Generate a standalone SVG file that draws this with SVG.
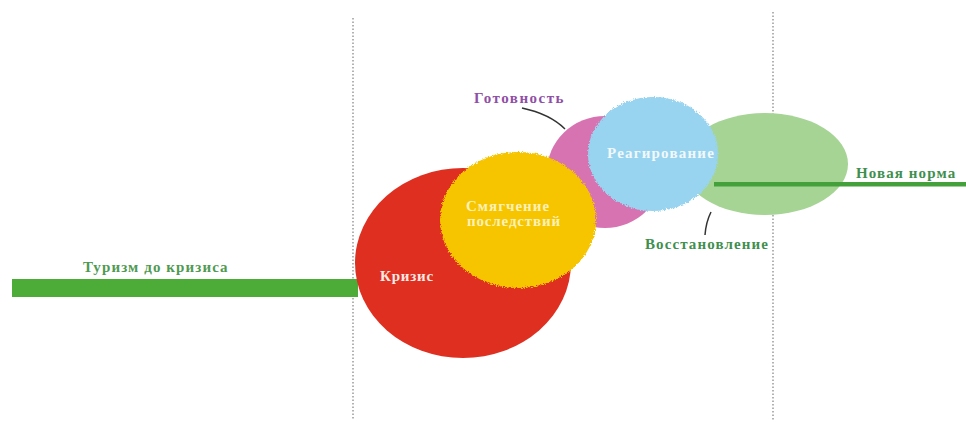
<svg xmlns="http://www.w3.org/2000/svg" width="966" height="422" viewBox="0 0 966 422">
  <style>
    .lbl { font-family: "Liberation Serif", "DejaVu Serif", serif; font-weight: bold; font-size: 15px; }
    .divider { stroke: #8a8a8a; stroke-width: 1.3; stroke-dasharray: 1.5 2; fill: none; }
    .leader { stroke: #333; stroke-width: 1.5; fill: none; }
  </style>
  <defs>
    <!-- soft, grainy edge for the painted circles -->
    <filter id="fuzzy" x="-10%" y="-10%" width="120%" height="120%">
      <feTurbulence type="fractalNoise" baseFrequency="0.9" numOctaves="2" seed="3" result="noise"/>
      <feDisplacementMap in="SourceGraphic" in2="noise" scale="5" xChannelSelector="R" yChannelSelector="G"/>
    </filter>
  </defs>

  <rect width="966" height="422" fill="#ffffff"/>

  <!-- phase dividers -->
  <g id="dividers">
    <line class="divider" x1="353" y1="18" x2="353" y2="420"/>
    <line class="divider" x1="773" y1="12" x2="773" y2="420"/>
  </g>

  <g id="tourism-before">
    <rect x="12" y="279" width="346" height="18" fill="#4dab38"/>
    <text class="lbl" x="83" y="272" fill="#4f9a52" letter-spacing="1.1">Туризм до кризиса</text>
  </g>

  <g id="recovery">
    <ellipse cx="765" cy="164" rx="83" ry="51" fill="#a6d495"/>
  </g>

  <g id="new-normal">
    <rect x="714" y="182" width="252" height="4.5" fill="#43a03a"/>
    <text class="lbl" x="856" y="178" fill="#3f8f4e" letter-spacing="1.1">Новая норма</text>
  </g>

  <g id="preparedness">
    <ellipse cx="605" cy="172" rx="58" ry="56" fill="#d873b2"/>
  </g>

  <g id="response">
    <ellipse cx="653" cy="154" rx="65" ry="57" fill="#98d4ef" filter="url(#fuzzy)"/>
    <text class="lbl" x="607" y="158" fill="#f2f8fb" letter-spacing="1.2">Реагирование</text>
  </g>

  <g id="crisis">
    <ellipse cx="463" cy="263" rx="108" ry="95" fill="#df2f20"/>
    <text class="lbl" x="380" y="281" fill="#fbe9e4" letter-spacing="0.8">Кризис</text>
  </g>

  <g id="mitigation">
    <ellipse cx="518" cy="220" rx="78" ry="68" fill="#f6c502" filter="url(#fuzzy)"/>
    <text class="lbl" x="466" y="211" fill="#fdf1b8" letter-spacing="1">Смягчение</text>
    <text class="lbl" x="467" y="226" fill="#fdf1b8" letter-spacing="0.85">последствий</text>
  </g>

  <g id="connectors">
    <path class="leader" d="M522 108 Q550 114 565 129"/>
    <path class="leader" d="M711 212 Q706 222 705 235"/>
  </g>

  <g id="labels">
    <text class="lbl" x="474" y="103" fill="#8f4fa6" letter-spacing="1.5">Готовность</text>
    <text class="lbl" x="645" y="249" fill="#3f8f4e" letter-spacing="1.1">Восстановление</text>
  </g>
</svg>
